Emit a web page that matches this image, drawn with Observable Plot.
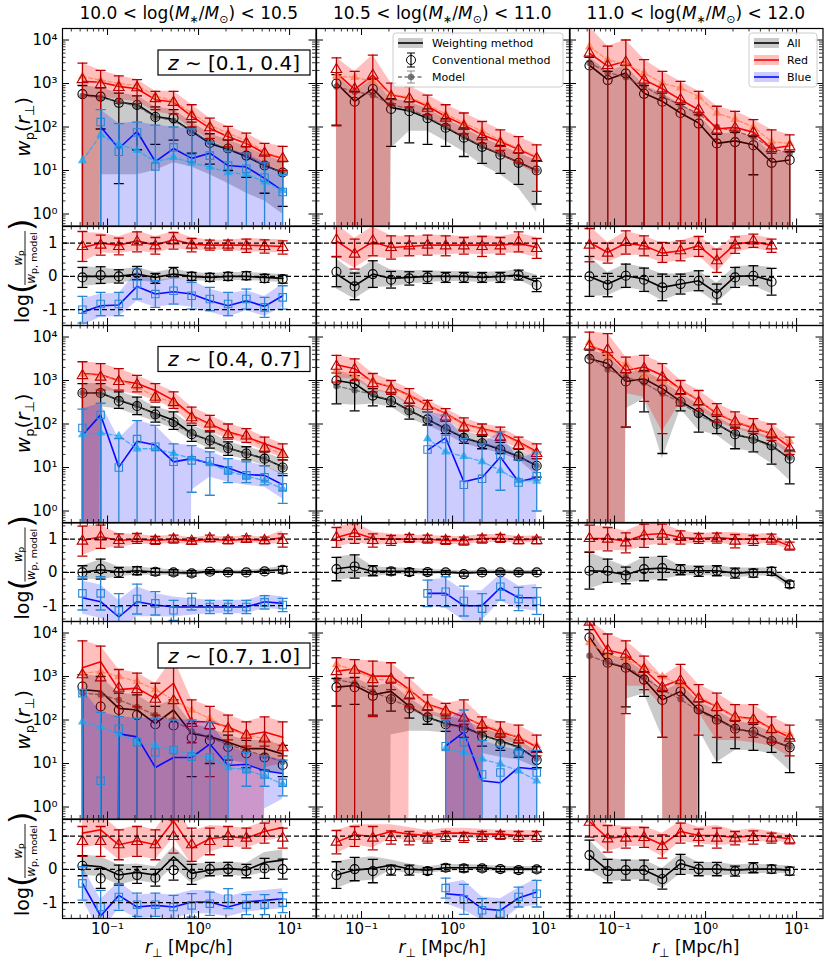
<!DOCTYPE html>
<html><head><meta charset="utf-8">
<script src="https://cdn.jsdelivr.net/npm/d3@7"></script>
<script src="https://cdn.jsdelivr.net/npm/@observablehq/plot@0.6"></script>
<style>
body{margin:0;background:#fff;font-family:"DejaVu Sans",sans-serif;}
#fig{position:relative;width:830px;height:966px;overflow:hidden;}
.pnl{position:absolute;}
.pnl svg{overflow:visible;}
#ov{position:absolute;left:0;top:0;pointer-events:none;}
</style></head><body><div id="fig"></div>
<script>
// ---------------- data ----------------
const rp = [0.053,0.084,0.133,0.211,0.335,0.531,0.84,1.33,2.11,3.35,5.31,8.4];
const massBins = [["10.0","10.5"],["10.5","11.0"],["11.0","12.0"]];
const zBins = ["[0.1, 0.4]","[0.4, 0.7]","[0.7, 1.0]"];
const xMajor = [0.1,1,10];
const xLabels = ["10\u207B\u00B9","10\u2070","10\u00B9"];
const yMajor = [1,10,100,1000,10000];
const yLabels = ["10\u2070","10\u00B9","10\u00B2","10\u00B3","10\u2074"];
const rMajor = [-1,0,1];
const rLabels = ["-1","0","1"];
const legend1 = ["Weighting method","Conventional method","Model"];
const legend2 = ["All","Red","Blue"];

// panels in order z1m1,z1m2,z1m3,z2m1,...; 0 = below the axis
const allW = [
 [550,500,370,330,175,150,80,42,31,21,13,9],
 [1020,390,760,280,235,160,97,58,35,23.6,15.4,10],
 [2630,1230,1750,600,390,210,124,42,48,39,15.5,17.5],
 [515,515,350,255,175,122,60,42,28,21,16,10.3],
 [1000,850,440,350,205,128,78,48,36,26,18,11],
 [3150,2450,950,1100,650,330,190,100,57,46,32,16],
 [500,460,185,170,83,170,49,41,31,22,22,16.6],
 [570,620,380,455,205,115,83,69,45,33,24,12.6],
 [7900,2070,1590,850,290,455,170,108,63,53,34,24]];
const allC = [
 [570,500,360,320,170,160,80,43,32,22,13,9],
 [1000,380,750,260,230,160,96,57,35,23,15,10],
 [2600,1200,1700,580,380,210,120,42,45,38,15,17.5],
 [515,515,340,260,165,110,58,42,28,21,16,10],
 [1000,860,450,340,205,128,76,48,36,26,18,11],
 [3150,2450,950,1050,620,320,180,100,58,46,32,16],
 [590,205,170,130,80,75,39,34,24,17,13.8,9.3],
 [570,570,360,300,185,115,80,63,42,28,18,12],
 [7900,2070,1590,850,290,455,175,102,63,53,33,23.5]];
const allM = [
 [520,480,380,300,170,140,80,45,32,22,13,9],
 [850,650,540,330,260,170,100,60,36,24,15,10],
 [3000,1800,1400,850,500,320,200,100,80,60,32,25],
 [520,500,360,270,160,100,60,42,28,21,16,10],
 [750,600,480,340,200,125,78,50,37,27,18,11],
 [3500,1800,1200,890,500,320,160,100,60,45,30,17],
 [420,380,290,200,130,100,55,40,27,20,15,11],
 [850,700,450,300,200,115,80,65,45,32,23,13],
 [3000,2100,1700,950,500,300,160,100,65,52,34,24]];
const allHi = [
 [900,800,600,520,290,250,130,70,50,35,23,16],
 [1600,650,1250,450,380,260,155,95,57,38,25,17],
 [4000,1900,2600,900,600,330,190,68,75,60,25,27],
 [850,850,550,415,245,190,93,66,39,30,23,15],
 [1500,1300,650,520,300,190,115,70,52,38,26,16],
 [5000,3800,1500,1700,1000,500,280,150,85,68,48,25],
 [1100,1000,415,380,205,290,83,63,45,34,34,26],
 [900,950,600,700,320,170,125,100,66,48,35,19],
 [12000,3200,2500,1300,450,700,260,165,95,80,52,37]];
const allLo = [
 [0,8,8,8,10,15,12,8,5,3,2,1],
 [0,0,0,32,80,80,47,27,13.4,8,3.9,1.1],
 [0,0,0,0,0,0,0,0,0,0,0,0],
 [0,250,220,158,112,78,42,27,19,15,11,6.6],
 [290,270,290,245,132,93,60,35,27,21,15,6.6],
 [0,0,220,380,16,220,71,55,27,23,12.3,5],
 [0,0,0,0,0,0,0,0,12,10,7,6],
 [0,0,0,45,55,55,50,0,17,14,12,8],
 [0,0,300,400,40,0,60,10.5,20,20,16.6,6.8]];
const allELo = [
 [0,90,5,30,40,50,25,14,10,7,3,1.5],
 [110,0,0,36,43,40,36,21,14.6,8.6,4.8,1.7],
 [0,0,0,0,0,0,0,0,0,8,0,0],
 [0,0,230,165,110,75,40,28,19,15,11,6.5],
 [290,200,260,250,130,95,60,36,27,21,15,6],
 [0,0,85,190,21,200,65,60,27,23,12,4.2],
 [0,0,0,0,0,0,5,10,12,8,7,5],
 [210,230,130,160,110,80,55,40,25,20,14,8],
 [0,0,200,350,40,0,0,10.5,22,20,18,6.2]];

const redW = [
 [1120,1070,860,760,425,375,175,94,60,42,25,19],
 [1750,730,1550,550,460,300,175,112,66,46,31,20],
 [5000,2500,3250,1230,760,425,250,90,98,76,32,37],
 [1450,1360,1000,850,590,350,158,100,66,50,35,25],
 [2300,1870,920,710,460,270,175,100,78,63,39,23],
 [6200,4500,1700,2040,1310,630,350,173,112,81,60,29.5],
 [1590,2180,500,540,315,700,91,91,69,45,53,40],
 [1320,1500,1020,1020,500,230,170,118,76,53,40,24],
 [17800,4000,3250,1450,590,850,315,205,118,108,63,40]];
const redC = [
 [1230,940,810,800,450,370,175,96,60,42,25,19],
 [2100,750,1550,500,450,270,160,103,60,42,30,19],
 [5000,2600,3100,1200,760,425,250,85,95,75,32,35],
 [1300,1200,950,800,415,310,140,100,57,53,28,20],
 [2140,1810,850,630,350,257,145,85,67,50,32,21],
 [6200,5100,1800,1870,1200,560,320,190,112,78,60,27],
 [1100,930,540,500,300,280,83,75,63,45,37,23],
 [1300,1400,850,870,360,200,160,110,76,50,35,21],
 [17800,4000,3250,1450,560,800,310,195,115,102,60,38]];
const redM = [
 [1450,1200,1000,900,520,400,210,110,72,48,27,19],
 [1480,1390,1120,575,480,325,200,124,80,50,32,21],
 [7000,3500,2800,1750,1020,790,500,210,150,100,46,42],
 [1400,1300,1050,700,430,310,150,95,60,50,30,20],
 [1700,1300,1000,700,440,280,170,100,75,60,37,22],
 [7500,3500,2400,1300,1000,650,350,180,112,85,60,40],
 [1200,1300,1000,770,500,290,170,108,63,45,37,24],
 [1900,1400,900,800,480,220,160,110,80,58,40,26],
 [6000,3200,2450,1700,1000,650,360,200,118,100,63,48]];
const redHi = [
 [2950,2000,1500,1230,660,660,325,160,103,72,42,36],
 [3900,1900,4500,1020,850,540,325,210,134,86,60,39],
 [20000,7200,10000,3550,1900,1120,660,300,230,148,86,66],
 [2700,2450,1870,1310,850,550,245,158,100,78,50,35],
 [3800,3150,1450,1000,650,350,225,138,100,85,50,35],
 [13000,12000,3450,3800,2450,1000,590,295,190,133,100,50],
 [6600,5000,1450,1200,700,2700,290,205,130,91,118,91],
 [2700,2450,2270,2070,930,380,240,290,118,91,76,45],
 [20000,9500,6600,2950,1000,1900,650,415,225,225,118,76]];
const redLo = [
 [0,500,430,380,220,190,90,50,32,22,13,9],
 [0,0,0,280,250,170,100,60,35,22,14,8],
 [0,0,0,0,0,0,0,0,0,0,0,0],
 [0,600,550,480,350,225,100,66,46,35,25,16],
 [1100,1100,590,500,270,190,120,71,55,42,27,16],
 [0,0,500,415,66,315,220,112,78,60,42,19],
 [0,0,0,0,0,0,0,0,0,0,8,10],
 [0,0,0,0,150,140,100,0,49,34,28,14],
 [0,0,600,600,200,0,150,34,34,30,25,14]];
const redELo = [
 [0,0,350,350,250,200,100,55,35,25,15,10],
 [107,0,0,340,290,190,110,70,42,29,15,3.3],
 [0,0,0,0,0,0,0,0,0,0,0,0],
 [0,600,600,550,320,230,105,70,45,38,23,15],
 [920,1000,550,480,260,190,115,70,55,42,27,16],
 [0,0,85,330,60,260,200,110,80,60,42,20],
 [0,0,0,200,130,0,30,5,35,25,25,15],
 [0,0,120,500,200,130,110,80,55,40,30,15],
 [0,0,140,500,40,0,45,40,40,40,30,15]];

const N5 = [null,null,null,null,null];
const blueW = [
 [null,102,32,79,16,32,19,25,13,12,6.6,3.4], null, null,
 [55,162,10.2,40,33,13.5,16,12.3,9.8,6.9,6.6,4],
 [...N5,25,48,4.7,5.9,17.5,4.7,5.9], null,
 [400,0,48,41,8.1,13.8,13.8,28,9,9.6,6.8,5.9],
 [...N5,null,25,53,4,3.6,8.1,7.4], null];
const blueC = [
 [null,130,27,75,12.4,34,19,22,13,11,6.8,3.2], null, null,
 [81,162,10,45,30,13.5,14.6,14,8.6,6.6,6,3.5],
 [...N5,26,45,4,5.5,19,4.5,6.3], null,
 [415,4,63,31,18,20.5,14.4,13.8,12,7.4,5.6,3.6],
 [...N5,null,25,31,5.6,6.2,18,6.2], null];
const blueM = [
 [17,66,40,29,16,20,15,12,9,8.2,5.5,3.5], null, null,
 [57,63,53,27,27,21,16,12.3,8.2,6.3,5,3.2],
 [...N5,46,23,18,13.7,8.5,5,4.9], null,
 [91,69,48,31,26,20,16.6,13.8,8.1,7.1,5.2,3.3],
 [...N5,null,22,18,12.6,9.7,6.8,4], null];
const blueHi = [
 [null,250,120,130,110,100,90,45,28,25,15,8], null, null,
 [220,300,46,120,93,35,32,23,16,13.5,11,7.2],
 [...N5,190,158,46,35,66,15,23], null,
 [500,150,120,110,110,100,100,90,25,18,15,12],
 [...N5,null,100,170,34,25,20,20], null];
const blueLo = [
 [null,0,0,0,0,0,0,0,0,0,0,0], null, null,
 [0,0,0,0,0,0,3,6,4.6,3.9,3.5,1.9],
 [...N5,0,0,0,0,0,0,0], null,
 [0,0,0,0,0,0,0,0,0,0,0.9,1.5],
 [...N5,null,0,0,0,0,0,0], null];
const blueELo = [
 [0,0,0,0,0,0,0,0,0,0,0,0], null, null,
 [0,0,0,0,0,0,2.7,2.3,4.5,4.5,4,1.5],
 [...N5,0,0,0,0,3,0,1], null,
 [0,0,0,0,0,0,0,0,0,3,3,1.8],
 [...N5,null,0,0,0,0,0,0], null];

// ratio log(wp/wp_model), before the +1 (red) / -1 (blue) shift
const rAllW = [
 [0,0,0,0.07,-0.03,0.07,0,-0.03,0,0,-0.03,-0.06],
 [0.07,-0.28,0.07,-0.06,-0.03,0,0,0,-0.03,0,0.04,-0.16],
 [0,-0.23,0.02,-0.08,-0.33,-0.23,-0.13,-0.5,0,0.02,-0.13,null],
 [0,0.08,0.01,0.05,0.01,0,-0.02,0.03,0.01,0,0.05,0.08],
 [0.11,0.18,0.03,0.03,0.03,0.01,0.01,-0.02,0.01,0.01,0,0],
 [0.05,0.03,-0.07,0.1,0.13,0.05,0.05,0.05,-0.02,0.01,0.01,-0.36],
 [0.13,0.08,-0.17,-0.09,-0.17,0.38,-0.12,-0.02,0.03,-0.02,0.21,0.28],
 [-0.17,-0.02,0.03,0.13,0.01,-0.02,0.05,0.05,0.05,0.01,0.01,0.01],
 [0.43,-0.02,-0.02,-0.02,-0.27,0.18,0.01,0.01,-0.02,0.01,0.01,-0.02]];
const rAllC = [
 [-0.03,0.04,0,0.1,-0.06,0.12,0,-0.03,0,0.02,-0.06,-0.08],
 [0.14,-0.3,0.07,-0.1,-0.06,-0.03,-0.03,-0.03,-0.03,-0.03,0.04,-0.26],
 [0,-0.26,0.02,-0.1,-0.33,-0.23,-0.13,-0.53,-0.03,0.02,-0.16,null],
 [0,0.1,0,0.05,0.02,0,-0.03,0.02,0,0,0.03,0.08],
 [0.1,0.18,0.05,0.03,0.01,0.01,0,-0.05,0,0,0,0],
 [0.05,0.05,-0.09,0.1,0.13,0.08,0.03,0.05,-0.02,-0.02,0.03,-0.36],
 [0.11,-0.27,-0.17,-0.17,-0.25,-0.02,-0.15,0.01,0.01,-0.05,0.03,0.01],
 [-0.17,0.01,-0.05,-0.02,-0.02,-0.05,0.05,0.03,0.03,0.01,-0.02,0],
 [0.43,-0.05,-0.02,-0.02,-0.29,0.15,0.01,0.01,-0.05,0.05,0.01,-0.05]];
const rAllE = [
 [0.3,0.25,0.2,0.2,0.15,0.15,0.12,0.12,0.12,0.12,0.12,0.12],
 [0.45,0.4,0.4,0.25,0.2,0.18,0.15,0.15,0.15,0.15,0.15,0.2],
 [0.6,0.35,0.35,0.35,0.4,0.3,0.3,0.3,0.3,0.3,0.4,null],
 [0.2,0.3,0.15,0.12,0.1,0.08,0.08,0.06,0.06,0.06,0.06,0.1],
 [0.35,0.35,0.15,0.1,0.1,0.08,0.06,0.06,0.06,0.06,0.06,0.06],
 [0.55,0.35,0.25,0.35,0.35,0.15,0.15,0.15,0.15,0.12,0.12,0.1],
 [0.3,0.3,0.3,0.25,0.25,0.3,0.3,0.2,0.2,0.2,0.3,0.3],
 [0.4,0.35,0.35,0.15,0.15,0.1,0.1,0.1,0.08,0.08,0.08,0.08],
 [0.45,0.35,0.3,0.3,0.3,0.3,0.2,0.2,0.15,0.15,0.12,0.12]];
const rRedW = [
 [-0.13,0,-0.06,0.07,-0.06,0.1,-0.03,-0.06,-0.06,-0.06,-0.08,-0.1],
 [0.07,-0.3,0.04,-0.13,-0.1,-0.06,-0.06,-0.06,-0.06,-0.06,0,-0.13],
 [0.02,-0.28,0,-0.08,-0.3,-0.23,-0.08,-0.53,-0.03,0.04,-0.06,null],
 [-0.04,0.07,-0.04,0,-0.04,0,-0.06,0,-0.04,0,-0.04,0.05],
 [0.05,0.2,0.02,0,0,0,-0.04,-0.04,0.02,0.02,-0.02,0],
 [0.02,0.02,-0.06,0.13,0.17,0.05,0.02,0.05,0,0,0.02,-0.21],
 [0.09,0.19,-0.26,-0.14,-0.26,0.46,-0.36,-0.08,-0.01,-0.06,0.14,0.26],
 [-0.18,0.04,-0.01,0.14,0.06,0.02,0.09,0.09,0.06,0.06,0.02,0.02],
 [0.44,-0.06,-0.01,-0.01,-0.26,0.14,0.02,0.02,-0.04,0.02,-0.01,-0.08]];
const rRedC = [
 [-0.1,-0.06,-0.1,0.04,-0.08,0.07,-0.06,-0.06,-0.06,-0.08,-0.1,-0.13],
 [0.1,-0.33,0.07,-0.13,-0.08,-0.06,-0.08,-0.08,-0.1,-0.08,0.04,-0.16],
 [-0.06,-0.3,0.02,-0.08,-0.28,-0.23,-0.1,-0.53,-0.06,0.07,-0.08,null],
 [-0.06,0.07,-0.04,0.02,-0.04,0,-0.06,0.02,-0.04,0,-0.04,-0.04],
 [0.05,0.17,-0.04,-0.04,0.02,0,-0.04,-0.06,0,0.02,-0.04,-0.04],
 [0.02,0,-0.11,0.1,0.15,0.05,0.02,0.03,-0.06,-0.04,0,-0.21],
 [-0.16,-0.16,-0.26,-0.16,-0.26,-0.01,-0.26,-0.16,-0.01,-0.06,0.09,-0.06],
 [-0.18,-0.01,-0.06,-0.04,-0.06,-0.06,-0.01,-0.04,-0.01,0.02,-0.01,-0.01],
 [0.42,-0.08,-0.06,-0.04,-0.31,0.09,-0.04,-0.06,-0.06,-0.04,-0.06,-0.11]];
const rRedE = [
 [0.45,0.3,0.25,0.3,0.25,0.25,0.2,0.15,0.15,0.2,0.2,0.2],
 [0.5,0.45,0.45,0.35,0.3,0.3,0.3,0.25,0.3,0.25,0.3,0.3],
 [0.5,0.3,0.35,0.3,0.3,0.3,0.3,0.35,0.25,0.2,0.2,null],
 [0.45,0.35,0.2,0.15,0.12,0.12,0.1,0.1,0.1,0.1,0.1,0.2],
 [0.3,0.3,0.2,0.15,0.12,0.12,0.12,0.12,0.12,0.12,0.1,0.1],
 [0.4,0.35,0.3,0.35,0.3,0.2,0.15,0.15,0.2,0.15,0.15,0.12],
 [0.45,0.45,0.45,0.45,0.45,0.5,0.5,0.4,0.3,0.3,0.3,0.3],
 [0.35,0.3,0.35,0.2,0.2,0.15,0.15,0.15,0.15,0.12,0.15,0.15],
 [0.45,0.4,0.3,0.3,0.35,0.3,0.25,0.3,0.2,0.2,0.15,0.12]];
const rBlueW = [
 [-0.08,0.12,0.14,0.7,0.47,0.54,0.47,0.27,0.12,0.27,0.1,0.42], null, null,
 [0.24,0.12,-0.34,0.12,0.02,-0.04,-0.04,-0.04,-0.04,-0.04,0.12,0.07],
 [...N5,0.37,0.37,0,0,0.54,0.24,0.24], null,
 [0.58,-0.4,0.22,-0.13,-0.08,-0.13,0.02,0.02,-0.13,0.02,0.07,0.12],
 [...N5,null,0.27,0.22,-0.18,-0.23,0.14,0.32], null];
const rBlueC = [
 [0,0.17,0.17,0.77,0.47,0.57,0.42,0.32,0.17,0.32,0.07,0.37], null, null,
 [0.37,0.37,-0.14,0.2,0.07,-0.14,0.12,-0.04,-0.04,-0.04,0.1,0.02],
 [...N5,0.37,0.42,0.14,-0.09,0.57,0.2,0.14], null,
 [0.58,-0.13,0.17,-0.06,-0.06,-0.13,-0.08,-0.03,0.12,-0.06,-0.06,0],
 [...N5,null,0.44,0.1,-0.23,-0.33,0.17,0.27], null];
const rBlueE = [
 [0.4,0.35,0.35,0.45,0.4,0.4,0.4,0.35,0.35,0.3,0.3,0.35], null, null,
 [0.5,0.5,0.5,0.45,0.35,0.3,0.25,0.2,0.2,0.2,0.2,0.2],
 [...N5,0.4,0.45,0.45,0.45,0.4,0.35,0.4], null,
 [0.5,0.5,0.4,0.35,0.35,0.35,0.35,0.35,0.3,0.3,0.3,0.3],
 [...N5,null,0.3,0.45,0.35,0.35,0.3,0.4], null];

// ---------------- layout ----------------
const colX = [62,315.5,569], PW = 253.5, HW = 197.5, HR = 99, rowY = [28,324.5,621];
const XD = [0.032,19.5], YD = [0.53,18400], RD = [-1.475,1.5];
const BOTTOM = 1e-99;
const fix = v => (v === 0 ? BOTTOM : v);
const isDecade = t => Math.abs(Math.log10(t) - Math.round(Math.log10(t))) < 1e-6;
const xMinor = d3.scaleLog().domain(XD).ticks().filter(t => !isDecade(t) && t > XD[0] && t < XD[1]);
const yMinor = d3.scaleLog().domain(YD).ticks().filter(t => !isDecade(t) && t > YD[0] && t < YD[1]);
const rMinor = d3.ticks(-1.4, 1.4, 14).filter(t => Math.abs(t - Math.round(t)) > 1e-6);
const capSym = {draw(ctx, size){ const h = Math.sqrt(size/Math.PI); ctx.moveTo(-h,0); ctx.lineTo(h,0); }};

const STY = {
  all:  {band:"#808080", op:0.42, line:"#000000", conv:"#000000", sym:"circle",   r:4.5, model:"#5a5a5a", msym:"circle",   mr:3.2},
  red:  {band:"#ff0000", op:0.25, line:"#ff0000", conv:"#b80000", sym:"triangle", r:3.9, model:"#ff7f50", msym:"triangle", mr:3.4},
  blue: {band:"#0000ff", op:0.2,  line:"#0a0aff", conv:"#2a86d6", sym:"square",   r:4.2, model:"#1ea9f2", msym:"triangle", mr:3.4}
};

function axesMarks(H, kind, c, last) {
  const m = [];
  const ymaj = kind === "wp" ? yMajor : rMajor;
  const ymin = kind === "wp" ? yMinor : rMinor;
  m.push(Plot.tickX(xMajor, {x:d=>d, insetTop:H-7, stroke:"#000"}));
  m.push(Plot.tickX(xMajor, {x:d=>d, insetBottom:H-7, stroke:"#000"}));
  m.push(Plot.tickX(xMinor, {x:d=>d, insetTop:H-3.5, stroke:"#000", strokeWidth:0.8}));
  m.push(Plot.tickX(xMinor, {x:d=>d, insetBottom:H-3.5, stroke:"#000", strokeWidth:0.8}));
  m.push(Plot.tickY(ymaj, {y:d=>d, insetRight:PW-7, stroke:"#000"}));
  m.push(Plot.tickY(ymaj, {y:d=>d, insetLeft:PW-7, stroke:"#000"}));
  m.push(Plot.tickY(ymin, {y:d=>d, insetRight:PW-3.5, stroke:"#000", strokeWidth:0.8}));
  m.push(Plot.tickY(ymin, {y:d=>d, insetLeft:PW-3.5, stroke:"#000", strokeWidth:0.8}));
  if (c === 0) m.push(Plot.text(ymaj, {y:d=>d, text:(d,i)=>(kind==="wp"?yLabels:rLabels)[i], frameAnchor:"left", textAnchor:"end", dx:-5, fontSize:15}));
  if (last) m.push(Plot.text(xMajor, {x:d=>d, text:(d,i)=>xLabels[i], frameAnchor:"bottom", lineAnchor:"top", dy:5, fontSize:15}));
  m.push(Plot.frame({stroke:"#000", strokeWidth:1.2}));
  return m;
}

function seriesMarks(s, d, withModel) {
  const m = [];
  const db = d.filter(o => o.lo != null && o.hi != null);
  m.push(Plot.areaY(db, {x:"x", y1:o=>fix(o.lo), y2:o=>o.hi, fill:s.band, fillOpacity:s.op, clip:true}));
  const dw = d.filter(o => o.w != null);
  m.push(Plot.line(dw, {x:"x", y:o=>fix(o.w), stroke:s.line, strokeWidth:1.6, clip:true}));
  if (withModel) {
    const dm = d.filter(o => o.m != null);
    m.push(Plot.line(dm, {x:"x", y:"m", stroke:s.model, strokeWidth:1.3, strokeDasharray:"4,2.5", strokeOpacity:0.8, clip:true}));
    m.push(Plot.dot(dm, {x:"x", y:"m", symbol:s.msym, r:s.mr, fill:s.model, fillOpacity:0.8, stroke:"none", clip:true}));
  }
  const dc = d.filter(o => o.c != null);
  m.push(Plot.ruleX(dc, {x:"x", y1:o=>fix(o.elo), y2:"ehi", stroke:s.conv, strokeWidth:1.3, clip:true}));
  m.push(Plot.dot(dc, {x:"x", y:o=>fix(o.elo), symbol:capSym, r:5, fill:"none", stroke:s.conv, strokeWidth:1.3, clip:true}));
  m.push(Plot.dot(dc, {x:"x", y:"ehi", symbol:capSym, r:5, fill:"none", stroke:s.conv, strokeWidth:1.3, clip:true}));
  m.push(Plot.dot(dc, {x:"x", y:"c", symbol:s.sym, r:s.r, fill:"none", stroke:s.conv, strokeWidth:1.1, clip:true}));
  return m;
}

function wpPanel(r, c) {
  const p = r*3 + c;
  const sets = [
    [STY.all, allW, allC, allM, allLo, allHi, allELo],
    [STY.red, redW, redC, redM, redLo, redHi, redELo],
    [STY.blue, blueW, blueC, blueM, blueLo, blueHi, blueELo]];
  let marks = [];
  for (const [s, W, C, M, LO, HI, EL] of sets) {
    if (!W[p]) continue;
    const d = rp.map((x,i) => ({x, w:W[p][i], c:C[p][i], m:M[p][i], lo:LO[p][i], hi:HI[p][i], elo:EL[p][i], ehi:HI[p][i]}));
    marks = marks.concat(seriesMarks(s, d, true));
  }
  marks = marks.concat(axesMarks(HW, "wp", c, false));
  return Plot.plot({width:PW, height:HW, marginTop:0, marginRight:0, marginBottom:0, marginLeft:0,
    x:{type:"log", domain:XD, axis:null}, y:{type:"log", domain:YD, axis:null},
    style:{background:"transparent", overflow:"visible", fontFamily:"DejaVu Sans", color:"#000"}, marks});
}

function ratioPanel(r, c) {
  const p = r*3 + c;
  const sets = [[STY.all, rAllW, rAllC, rAllE, 0], [STY.red, rRedW, rRedC, rRedE, 1], [STY.blue, rBlueW, rBlueC, rBlueE, -1]];
  let marks = [];
  for (const [s, W, C, E, off] of sets) {
    if (!W[p]) continue;
    const d = rp.map((x,i) => {
      const w = W[p][i], cc = C[p][i], e = E[p][i];
      if (w == null) return {x, w:null, c:null, lo:null, hi:null};
      return {x, w:w+off, c:cc+off, lo:w+off-e, hi:w+off+e, elo:cc+off-e, ehi:cc+off+e};
    });
    marks = marks.concat(seriesMarks(s, d, false));
  }
  marks.push(Plot.ruleY(rMajor, {y:d=>d, stroke:"#000", strokeWidth:1.2, strokeDasharray:"5,3"}));
  marks = marks.concat(axesMarks(HR, "ratio", c, r === 2));
  return Plot.plot({width:PW, height:HR, marginTop:0, marginRight:0, marginBottom:0, marginLeft:0,
    x:{type:"log", domain:XD, axis:null}, y:{domain:RD, axis:null},
    style:{background:"transparent", overflow:"visible", fontFamily:"DejaVu Sans", color:"#000"}, marks});
}

const fig = document.getElementById("fig");
function place(node, left, top) {
  const div = document.createElement("div");
  div.className = "pnl"; div.style.left = left + "px"; div.style.top = top + "px";
  div.appendChild(node); fig.appendChild(div);
}
for (let r = 0; r < 3; r++) for (let c = 0; c < 3; c++) {
  place(wpPanel(r, c), colX[c], rowY[r]);
  place(ratioPanel(r, c), colX[c], rowY[r] + HW);
}

// ---------------- texts, legends ----------------
let ov = `<svg id="ov" xmlns="http://www.w3.org/2000/svg" width="830" height="966" font-family="DejaVu Sans" fill="#000">`;
for (let c = 0; c < 3; c++) {
  const cx = colX[c] + PW/2;
  ov += `<text x="${cx}" y="19" font-size="17" text-anchor="middle">${massBins[c][0]} &lt; log(<tspan font-style="italic">M</tspan><tspan font-size="11" dy="4">\u2217</tspan><tspan dy="-4">/</tspan><tspan font-style="italic">M</tspan><tspan font-size="11" dy="4">\u2299</tspan><tspan dy="-4">) &lt; ${massBins[c][1]}</tspan></text>`;
  ov += `<text x="${cx}" y="953" font-size="17" text-anchor="middle"><tspan font-style="italic">r</tspan><tspan font-size="12" dy="4">\u22A5</tspan><tspan dy="-4"> [Mpc/h]</tspan></text>`;
}
for (let r = 0; r < 3; r++) {
  const cy = rowY[r] + HW/2;
  ov += `<text transform="translate(30,${cy}) rotate(-90)" font-size="20" text-anchor="middle"><tspan font-style="italic">w</tspan><tspan font-size="13" dy="4">p</tspan><tspan dy="-4">(</tspan><tspan font-style="italic">r</tspan><tspan font-size="13" dy="4">\u22A5</tspan><tspan dy="-4">)</tspan></text>`;
  const ry = rowY[r] + HW + HR/2 - 1;
  ov += `<g transform="translate(28,${ry}) rotate(-90)">
    <text x="-49" y="1" font-size="19">log</text>
    <text x="-20" y="4" font-size="32">(</text>
    <text x="16" y="-6" font-size="12" text-anchor="middle"><tspan font-style="italic">w</tspan><tspan font-size="9" dy="2">p</tspan></text>
    <line x1="-11" x2="43" y1="-3" y2="-3" stroke="#000" stroke-width="0.9"/>
    <text x="16" y="7" font-size="12" text-anchor="middle"><tspan font-style="italic">w</tspan><tspan font-size="9.5" dy="2">p, model</tspan></text>
    <text x="43" y="4" font-size="32">)</text></g>`;
  const by = rowY[r] + 22;
  ov += `<rect x="158" y="${by}" width="152" height="25" fill="#fff" stroke="#000" stroke-width="1.2"/>`;
  ov += `<text x="234" y="${by+19.5}" font-size="20" text-anchor="middle"><tspan font-style="italic">z</tspan> \u223C ${zBins[r]}</text>`;
}
// legend 1 (methods)
ov += `<rect x="393" y="33" width="170" height="54" rx="3" fill="#fff" fill-opacity="0.8" stroke="#cccccc"/>`;
ov += `<rect x="398" y="38" width="25" height="10" fill="#808080" fill-opacity="0.42"/><line x1="398" x2="423" y1="43" y2="43" stroke="#000" stroke-width="1.6"/>`;
ov += `<line x1="411" x2="411" y1="53" y2="67" stroke="#000" stroke-width="1.2"/><line x1="407" x2="415" y1="53" y2="53" stroke="#000"/><line x1="407" x2="415" y1="67" y2="67" stroke="#000"/><circle cx="411" cy="60" r="4.5" fill="none" stroke="#000"/>`;
ov += `<line x1="398" x2="423" y1="77" y2="77" stroke="#5a5a5a" stroke-dasharray="4,2.5" stroke-width="1.3" opacity="0.8"/><line x1="411" x2="411" y1="71" y2="83" stroke="#8a8a8a"/><line x1="407" x2="415" y1="71" y2="71" stroke="#8a8a8a"/><line x1="407" x2="415" y1="83" y2="83" stroke="#8a8a8a"/><circle cx="411" cy="77" r="3.2" fill="#5a5a5a" opacity="0.8"/>`;
legend1.forEach((t,i) => { ov += `<text x="432" y="${47+17*i}" font-size="11">${t}</text>`; });
// legend 2 (samples)
ov += `<rect x="749" y="33" width="68" height="54" rx="3" fill="#fff" fill-opacity="0.8" stroke="#cccccc"/>`;
[[STY.all.band,STY.all.op,STY.all.line],[STY.red.band,STY.red.op,STY.red.line],[STY.blue.band,STY.blue.op,STY.blue.line]].forEach(([b,o,l],i) => {
  const y = 43 + 17*i;
  ov += `<rect x="754" y="${y-5}" width="25" height="10" fill="${b}" fill-opacity="${o}"/><line x1="754" x2="779" y1="${y}" y2="${y}" stroke="${l}" stroke-width="1.6"/>`;
  ov += `<text x="787" y="${y+4}" font-size="11">${legend2[i]}</text>`;
});
ov += `</svg>`;
fig.insertAdjacentHTML("beforeend", ov);
</script></body></html>
